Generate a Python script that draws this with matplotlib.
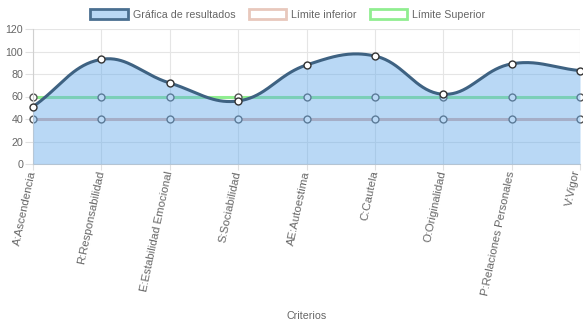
import numpy as np
import matplotlib.pyplot as plt
from matplotlib.patches import Patch

criterios = ["A:Ascendencia", "R:Responsabilidad", "E:Estabilidad Emocional",
             "S:Sociabilidad", "AE:Autoestima", "C:Cautela", "O:Originalidad",
             "P:Relaciones Personales", "V:Vigor"]
resultados = [51, 93, 72, 56, 88, 96, 62, 89, 83]
limite_inferior = [40, 40, 40, 40, 40, 40, 40, 40, 40]
limite_superior = [60, 60, 60, 60, 60, 60, 60, 60, 60]
y_ticks = [0, 20, 40, 60, 80, 100, 120]

W, H = 583, 328
L, R, T, B = 33, 580, 29, 164

plt.rcParams["font.family"] = ["Liberation Sans", "DejaVu Sans"]
fig = plt.figure(figsize=(W / 100, H / 100), dpi=100)
ax = fig.add_axes([L / W, 1 - B / H, (R - L) / W, (B - T) / H])


def spline(vals, tension=0.4):
    # Chart.js style bezier smoothing, computed in pixel space
    sx = (R - L) / (len(vals) - 1)
    sy = (B - T) / 120.0
    pts = np.array([[i * sx, v * sy] for i, v in enumerate(vals)])
    n = len(pts)
    cp_prev, cp_next = [], []
    for i in range(n):
        p0 = pts[max(i - 1, 0)]
        p1 = pts[i]
        p2 = pts[min(i + 1, n - 1)]
        d01 = np.hypot(*(p1 - p0))
        d12 = np.hypot(*(p2 - p1))
        tot = d01 + d12
        s01 = d01 / tot if tot else 0
        s12 = d12 / tot if tot else 0
        cp_prev.append(p1 - tension * s01 * (p2 - p0))
        cp_next.append(p1 + tension * s12 * (p2 - p0))
    t = np.linspace(0, 1, 40)[:, None]
    segs = []
    for i in range(n - 1):
        a, b, c, d = pts[i], cp_next[i], cp_prev[i + 1], pts[i + 1]
        seg = (1 - t) ** 3 * a + 3 * (1 - t) ** 2 * t * b + 3 * (1 - t) * t ** 2 * c + t ** 3 * d
        segs.append(seg if i == 0 else seg[1:])
    curve = np.vstack(segs)
    return curve[:, 0] / sx, curve[:, 1] / sy


x = np.arange(len(criterios))
cx, cy = spline(resultados)

blue_fill = (100 / 255, 170 / 255, 235 / 255, 0.45)
line_col = "#3e6282"
pink = "#dcb3ab"
green = "#90ee90"
txt = "#666666"

ax.plot(x, limite_inferior, color=pink, lw=2.2, zorder=2,
        marker="o", ms=5, mfc="white", mec="#555555", mew=1.0, clip_on=False)
ax.plot(x, limite_superior, color=green, lw=2.2, zorder=2,
        marker="o", ms=5, mfc="white", mec="#555555", mew=1.0, clip_on=False)
ax.fill_between(cx, 0, cy, color=blue_fill, lw=0, zorder=3)
ax.plot(cx, cy, color=line_col, lw=2.2, zorder=4, solid_capstyle="round")
ax.plot(x, resultados, ls="none", marker="o", ms=5, mfc="white", mec="#333333",
        mew=1.0, zorder=5, clip_on=False)

ax.set_xlim(0, len(criterios) - 1)
ax.set_ylim(0, 120)
ax.set_yticks(y_ticks)
ax.set_xticks(x)
ax.set_xticklabels(criterios, rotation=78, ha="right", va="center",
                   rotation_mode="anchor", fontsize=8.2)
ax.get_xticklabels()[-1].set_va("baseline")
ax.tick_params(axis="both", colors=txt, length=6, width=0.8)
ax.tick_params(axis="both", color="#e0e0e0")
ax.tick_params(axis="y", labelsize=7.7, pad=1)
ax.tick_params(axis="x", length=4, pad=1)
ax.grid(True, color="#e5e5e5", lw=0.8, zorder=0)
ax.set_axisbelow(True)
for s in ["top", "right"]:
    ax.spines[s].set_visible(False)
ax.spines["left"].set_color("#d0d0d0")
ax.spines["bottom"].set_color("#cccccc")

fig.text((L + R) / 2 / W, 1 - 316 / H, "Criterios", ha="center", va="center",
         color=txt, fontsize=7.7)

handles = [
    Patch(facecolor=blue_fill, edgecolor="#4a6f90", lw=2),
    Patch(facecolor="white", edgecolor="#e8c8bc", lw=2),
    Patch(facecolor="white", edgecolor=green, lw=2),
]
labels = ["Gráfica de resultados", "Límite inferior", "Límite Superior"]
leg = fig.legend(handles, labels, loc="center", bbox_to_anchor=(288 / W, 1 - 14.5 / H),
                 ncol=3, frameon=False, fontsize=7.7, handlelength=3.5,
                 handleheight=1.1, handletextpad=0.5, columnspacing=1.2,
                 borderpad=0, borderaxespad=0)
for t in leg.get_texts():
    t.set_color(txt)

fig.savefig("out.png", dpi=100)
